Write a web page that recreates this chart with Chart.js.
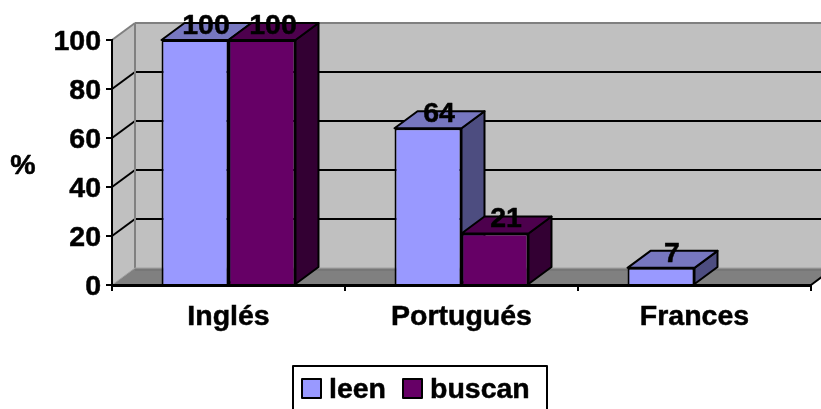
<!DOCTYPE html>
<html>
<head>
<meta charset="utf-8">
<style>
  html, body { margin: 0; padding: 0; background: #fff; overflow: hidden; }
  canvas { display: block; }
</style>
</head>
<body>
<canvas id="languageChart" width="821" height="409"></canvas>
<script src="https://cdn.jsdelivr.net/npm/chart.js@4"></script>
<script>
const categories = ["Inglés", "Portugués", "Frances"];
const leen = [100, 64, 7];
const buscan = [100, 21, null];
const yTicks = [0, 20, 40, 60, 80, 100];

const seriesNames = ["leen", "buscan"];
const frontColors = ["#9999ff", "#660066"];
const topColors = ["#7777c0", "#4d004d"];
const sideColors = ["#4d4d80", "#330033"];

const font = 'bold 28.5px "Liberation Sans"';
// depth of the fake 3D box
const depthX = 23;
const depthY = -17;

const fillPoly = (ctx, points, fill, stroke, width) => {
  ctx.beginPath();
  points.forEach((p, i) => (i ? ctx.lineTo(p[0], p[1]) : ctx.moveTo(p[0], p[1])));
  ctx.closePath();
  ctx.fillStyle = fill;
  ctx.fill();
  if (stroke) {
    ctx.lineJoin = "round";
    ctx.strokeStyle = stroke;
    ctx.lineWidth = width;
    ctx.stroke();
  }
};

const line = (ctx, x1, y1, x2, y2, color, width) => {
  ctx.beginPath();
  ctx.moveTo(x1, y1);
  ctx.lineTo(x2, y2);
  ctx.strokeStyle = color;
  ctx.lineWidth = width;
  ctx.stroke();
};

// canvas text with a thin outline, the reference glyphs are heavier
const heavyText = (ctx, text, x, y) => {
  ctx.strokeStyle = "#000";
  ctx.lineWidth = 0.5;
  ctx.lineJoin = "round";
  ctx.strokeText(text, x, y);
  ctx.fillStyle = "#000";
  ctx.fillText(text, x, y);
};

// Walls, floor and gridlines behind the bars
const wallsPlugin = {
  id: "walls",
  beforeDraw(chart) {
    const ctx = chart.ctx;
    const { left, right, top, bottom } = chart.chartArea;
    const y = chart.scales.y;
    ctx.save();
    fillPoly(ctx, [[left + depthX, top + depthY], [right + depthX, top + depthY], [right + depthX, bottom + depthY], [left + depthX, bottom + depthY]], "#c0c0c0");
    fillPoly(ctx, [[left, top], [left + depthX, top + depthY], [left + depthX, bottom + depthY], [left, bottom]], "#c0c0c0");
    fillPoly(ctx, [[left, bottom], [left + depthX, bottom + depthY], [right + depthX, bottom + depthY], [right, bottom]], "#808080");
    yTicks.forEach((t) => {
      if (t === 0 || t === 100) return;
      const py = y.getPixelForValue(t);
      line(ctx, left, py, left + depthX, py + depthY, "#000", 2);
      line(ctx, left + depthX, py + depthY, right + depthX, py + depthY, "#000", 2);
    });
    line(ctx, left, top, left + depthX, top + depthY, "#808080", 2);
    line(ctx, left + depthX, top + depthY, right + depthX, top + depthY, "#808080", 2);
    line(ctx, left + depthX, top + depthY, left + depthX, bottom + depthY, "#808080", 2);
    line(ctx, left + depthX, bottom + depthY, right + depthX, bottom + depthY, "#a0a0a0", 1);
    line(ctx, left + depthX, bottom + depthY + 2, right + depthX, bottom + depthY + 2, "#6e6e6e", 1);
    line(ctx, left, bottom, left + depthX, bottom + depthY, "#a0a0a0", 1);
    line(ctx, right, bottom, right + depthX, bottom + depthY, "#000", 2);
    ctx.restore();
  },
  // tops and sides of the bars, the fronts come from Chart.js
  beforeDatasetsDraw(chart) {
    const ctx = chart.ctx;
    ctx.save();
    chart.data.datasets.forEach((ds, d) => {
      chart.getDatasetMeta(d).data.forEach((bar, i) => {
        if (ds.data[i] == null) return;
        const l = bar.x - bar.width / 2;
        const r = bar.x + bar.width / 2;
        const t = bar.y;
        const b = bar.base;
        fillPoly(ctx, [[r, t], [r + depthX, t + depthY], [r + depthX, b + depthY], [r, b]], sideColors[d], "#000", 2);
        fillPoly(ctx, [[l, t], [l + depthX, t + depthY], [r + depthX, t + depthY], [r, t]], topColors[d], "#000", 2);
      });
    });
    ctx.restore();
  },
  afterDatasetsDraw(chart) {
    const ctx = chart.ctx;
    ctx.save();
    ctx.font = font;
    ctx.textAlign = "center";
    ctx.textBaseline = "middle";
    chart.data.datasets.forEach((ds, d) => {
      chart.getDatasetMeta(d).data.forEach((bar, i) => {
        if (ds.data[i] == null) return;
        heavyText(ctx, String(ds.data[i]), bar.x + 11, bar.y - 14);
      });
    });
    ctx.restore();
  },
  // unit label and boxed legend
  afterDraw(chart) {
    const ctx = chart.ctx;
    ctx.save();
    ctx.font = font;
    ctx.textAlign = "center";
    ctx.textBaseline = "middle";
    heavyText(ctx, "%", 23, 166);

    ctx.textAlign = "left";
    ctx.strokeStyle = "#000";
    ctx.lineWidth = 2;
    ctx.strokeRect(293, 366, 254, 60);
    const itemX = [302, 403];
    seriesNames.forEach((name, i) => {
      ctx.fillStyle = frontColors[i];
      ctx.fillRect(itemX[i], 379, 19, 19);
      ctx.strokeStyle = "#000";
      ctx.lineWidth = 2;
      ctx.strokeRect(itemX[i], 379, 19, 19);
      heavyText(ctx, name, itemX[i] + 27, 390);
    });
    ctx.restore();
  },
};

new Chart(document.getElementById("languageChart"), {
  type: "bar",
  data: {
    labels: categories,
    datasets: [
      { label: seriesNames[0], data: leen, backgroundColor: frontColors[0], borderColor: "#000", borderWidth: 2 },
      { label: seriesNames[1], data: buscan, backgroundColor: frontColors[1], borderColor: "#000", borderWidth: 2 },
    ],
  },
  options: {
    responsive: false,
    animation: false,
    layout: { padding: { left: 0, right: 10, top: 40, bottom: 0 } },
    datasets: { bar: { categoryPercentage: 0.575, barPercentage: 1 } },
    plugins: { legend: { display: false }, tooltip: { enabled: false } },
    scales: {
      x: {
        grid: { drawOnChartArea: false, color: "#000", lineWidth: 2, tickLength: 6 },
        border: { color: "#000", width: 3, z: 2 },
        ticks: {
          color: "#000",
          font: { family: "Liberation Sans", size: 28.5, weight: "bold" },
          padding: 9,
          maxRotation: 0,
          textStrokeColor: "#000",
          textStrokeWidth: 0.5,
        },
        afterFit: (scale) => { scale.height = 124; },
      },
      y: {
        min: 0,
        max: 100,
        grid: { drawOnChartArea: false, color: "#000", lineWidth: 2, tickLength: 6 },
        border: { color: "#000", width: 2, z: 2 },
        ticks: {
          color: "#000",
          stepSize: 20,
          font: { family: "Liberation Sans", size: 28.5, weight: "bold" },
          padding: 5,
          labelOffset: 2,
          textStrokeColor: "#000",
          textStrokeWidth: 0.5,
        },
        afterFit: (scale) => { scale.width = 112; },
      },
    },
  },
  plugins: [wallsPlugin],
});
</script>
</body>
</html>
